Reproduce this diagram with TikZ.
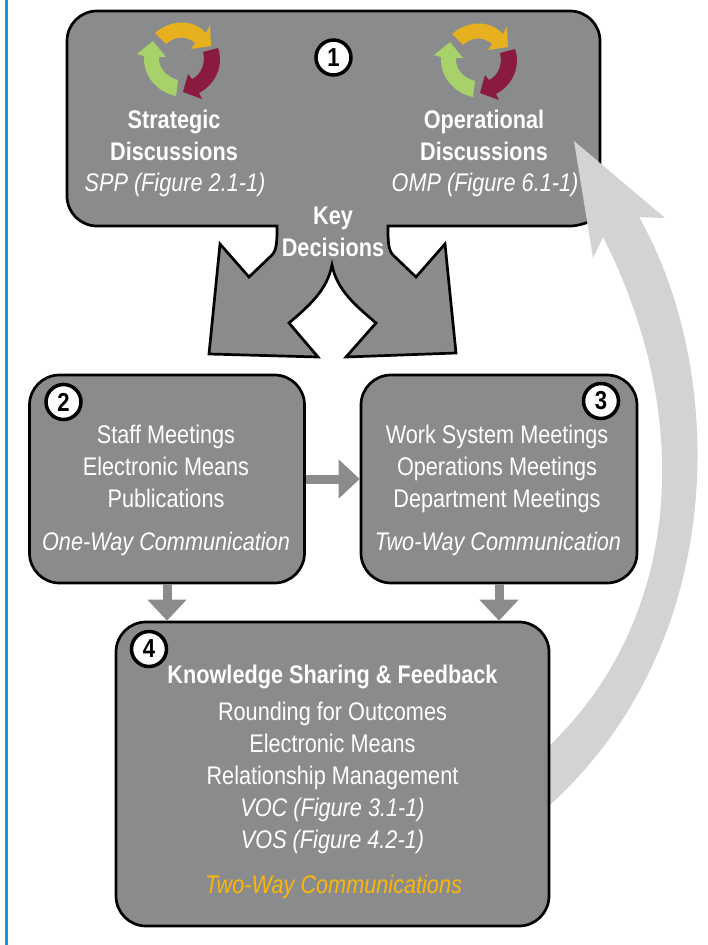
\documentclass[tikz,border=0pt]{standalone}
\usepackage{fontspec}
\setmainfont{Liberation Sans}[FakeStretch=0.85]
\usetikzlibrary{arrows.meta}
\definecolor{panelgray}{HTML}{8A8B8D}
\definecolor{sweepgray}{HTML}{D1D3D4}
\definecolor{sidebar}{HTML}{0F9BD0}
\definecolor{cycleyellow}{HTML}{E6B01E}
\definecolor{cyclered}{HTML}{8B1A3F}
\definecolor{cyclegreen}{HTML}{A8D16A}
\definecolor{oneway}{HTML}{FBB60A}
\tikzset{
   panel/.style={draw=black,fill=panelgray,line width=2.7pt},
   box/.style={panel,rounded corners=30pt,minimum width=#1},
   label/.style={text=white,align=center,font=\fontsize{25.5}{32}\selectfont},
   head/.style={label,font=\fontsize{25.5}{32}\selectfont\bfseries},
   slant/.style={label,font=\fontsize{25.5}{32}\selectfont\itshape},
   badge/.style={circle,draw=black,fill=white,line width=3.5pt,minimum size=35pt,inner sep=0pt,
      font=\fontsize{26}{26}\selectfont\bfseries},
   flow/.style={draw=panelgray,line width=9pt,-{Triangle[length=21pt,width=38pt]}},
   cycleicon/.pic={
      \fill[cycleyellow] (155,33) .. controls (170,20) and (192,18) .. (206,33) -- (210,25) -- (211,46)
         -- (191,49) -- (195,43) .. controls (187,36) and (176,35) .. (166,44) -- cycle;
      \fill[cyclered] (203,52) -- (218,48) .. controls (224,65) and (216,84) .. (199,93) -- (202,99)
         -- (183,92) -- (188,74) -- (192,79) .. controls (201,75) and (206,63) .. (203,52) -- cycle;
      \fill[cyclegreen] (153,41) -- (166,57) -- (159,57) .. controls (158,67) and (166,77) .. (178,80)
         -- (176,96) .. controls (157,92) and (143,76) .. (144,56) -- (137,54) -- cycle;
   }
}
\begin{document}
\begin{tikzpicture}[x=1pt,y=-1pt]
\useasboundingbox (0,0) rectangle (708,945);
\fill[sidebar] (4.5,0) rectangle (8.3,945);
\draw[panel] [rounded corners=30pt] (277,226) -- (67,226) -- (67,11) -- (600,11) -- (600,196)
   [sharp corners] .. controls (600,213) and (587,226) .. (570,226) -- (388,226)
   .. controls (388,240) and (388,250) .. (393,255) -- (416,277) -- (445,244) -- (456,353) -- (346,357) -- (376,323)
   .. controls (355,305) and (337,290) .. (332,265) .. controls (327,290) and (310,305) .. (289,323)
   -- (318,357) -- (209,354) -- (220,244) -- (249,277) -- (272,255)
   .. controls (277,250) and (277,240) .. (277,226) -- cycle;
\fill[sweepgray] (574,141) -- (665,218) -- (639,217) .. controls (726,370) and (731,640) .. (550,805)
   -- (550,745) .. controls (680,620) and (696,420) .. (603,237) -- (593,258) -- cycle;
\node[box=275pt,minimum height=208pt] (box2) at (167,479) {};
\node[box=276pt,minimum height=208pt] (box3) at (499,479) {};
\node[box=433pt,minimum height=304pt] (box4) at (332.5,774) {};
\pic at (0,0) {cycleicon};
\pic at (297,1) {cycleicon};
\node[badge] (one) at (333.5,57.5) {1};
\node[badge] (two) at (63.5,402) {2};
\node[badge] (three) at (601,401) {3};
\node[badge] (four) at (149,649) {4};
\node[head] (strategic) at (174,135) {Strategic\\Discussions};
\node[slant] (spp) at (175,185) {SPP (Figure 2.1-1)};
\node[head] (operational) at (484,135) {Operational\\Discussions};
\node[slant] (omp) at (485,185) {OMP (Figure 6.1-1)};
\node[head] (decisions) at (333,232) {Key\\Decisions};
\node[label] (staff) at (166,466) {Staff Meetings\\Electronic Means\\Publications};
\node[slant] (oneway) at (166,544) {One-Way Communication};
\node[label] (work) at (497,468.5) {Work System Meetings\\Operations Meetings\\Department Meetings};
\node[slant] (twoway) at (498,544) {Two-Way Communication};
\node[head] (sharing) at (332.5,677) {Knowledge Sharing \& Feedback};
\node[label] (rounding) at (332.5,746) {Rounding for Outcomes\\Electronic Means\\Relationship Management};
\node[slant] (voc) at (332.5,826) {VOC (Figure 3.1-1)\\VOS (Figure 4.2-1)};
\node[slant,text=oneway] (twowaycomm) at (333.5,887) {Two-Way Communications};
\draw[flow] (box2) -- (box3);
\draw[flow] (box2.south) -- (box2.south |- box4.north);
\draw[flow] (box3.south) -- (box3.south |- box4.north);
\end{tikzpicture}
\end{document}
